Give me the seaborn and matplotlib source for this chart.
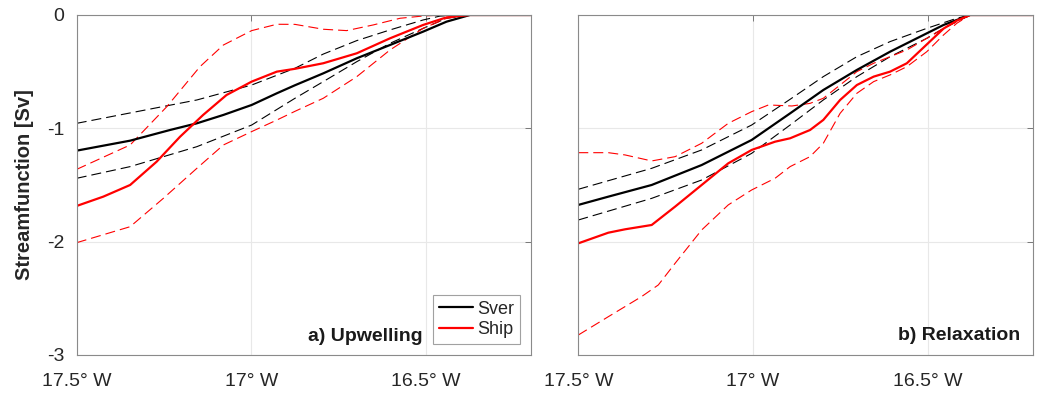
import numpy as np
import pandas as pd
import matplotlib
matplotlib.use("Agg")
import matplotlib.pyplot as plt
import seaborn as sns

# ---------------- data ----------------
# Panel a) Upwelling
a_sver_lon = [-17.5, -17.347, -17.233, -17.156, -17.080, -16.999, -16.927, -16.875, -16.794,
              -16.698, -16.603, -16.508, -16.441, -16.374, -16.2]
a_sver_val = [-1.197, -1.109, -1.015, -0.956, -0.882, -0.794, -0.691, -0.62, -0.515,
              -0.382, -0.265, -0.147, -0.059, 0.0, 0.0]
a_sver_hi_lon = [-17.5, -17.328, -17.156, -16.999, -16.875, -16.794, -16.698, -16.603,
                 -16.508, -16.46, -16.40, -16.2]
a_sver_hi_val = [-0.956, -0.853, -0.750, -0.618, -0.47, -0.345, -0.226, -0.132,
                 -0.044, -0.01, 0.0, 0.0]
a_sver_lo_lon = [-17.5, -17.347, -17.156, -16.999, -16.875, -16.794, -16.698, -16.603,
                 -16.508, -16.441, -16.374, -16.2]
a_sver_lo_val = [-1.441, -1.338, -1.162, -0.971, -0.735, -0.588, -0.412, -0.250,
                 -0.118, -0.029, 0.0, 0.0]

a_ship_lon = [-17.5, -17.424, -17.347, -17.271, -17.204, -17.138, -17.071, -16.999, -16.927,
              -16.875, -16.794, -16.698, -16.603, -16.508, -16.441, -16.374, -16.2]
a_ship_val = [-1.685, -1.603, -1.500, -1.294, -1.074, -0.882, -0.706, -0.588, -0.500,
              -0.475, -0.426, -0.338, -0.206, -0.088, -0.021, 0.0, 0.0]
a_ship_hi_lon = [-17.5, -17.347, -17.242, -17.147, -17.080, -16.999, -16.927, -16.875,
                 -16.794, -16.727, -16.651, -16.574, -16.508, -16.441, -16.2]
a_ship_hi_val = [-1.362, -1.147, -0.809, -0.456, -0.265, -0.138, -0.082, -0.083,
                 -0.126, -0.138, -0.088, -0.029, -0.009, 0.0, 0.0]
a_ship_lo_lon = [-17.5, -17.347, -17.252, -17.156, -17.080, -16.999, -16.927, -16.875,
                 -16.794, -16.698, -16.603, -16.508, -16.441, -16.374, -16.2]
a_ship_lo_val = [-2.009, -1.868, -1.618, -1.353, -1.147, -1.029, -0.927, -0.85,
                 -0.735, -0.544, -0.309, -0.118, -0.029, 0.0, 0.0]

# Panel b) Relaxation
b_sver_lon = [-17.5, -17.414, -17.290, -17.147, -17.004, -16.894, -16.799, -16.703,
              -16.608, -16.503, -16.455, -16.379, -16.2]
b_sver_val = [-1.676, -1.603, -1.500, -1.324, -1.103, -0.868, -0.662, -0.485,
              -0.324, -0.162, -0.088, 0.0, 0.0]
b_sver_hi_lon = [-17.5, -17.290, -17.147, -17.004, -16.894, -16.799, -16.703, -16.608,
                 -16.503, -16.417, -16.379, -16.2]
b_sver_hi_val = [-1.538, -1.353, -1.191, -0.971, -0.744, -0.544, -0.368, -0.235,
                 -0.118, -0.029, 0.0, 0.0]
b_sver_lo_lon = [-17.5, -17.290, -17.147, -17.004, -16.894, -16.799, -16.703, -16.608,
                 -16.503, -16.455, -16.379, -16.2]
b_sver_lo_val = [-1.809, -1.618, -1.456, -1.221, -0.971, -0.750, -0.544, -0.368,
                 -0.206, -0.118, 0.0, 0.0]

b_ship_lon = [-17.5, -17.414, -17.366, -17.290, -17.223, -17.147, -17.071, -17.004, -16.937,
              -16.894, -16.837, -16.799, -16.751, -16.703, -16.655, -16.608, -16.560,
              -16.503, -16.455, -16.417, -16.379, -16.2]
b_ship_val = [-2.015, -1.921, -1.891, -1.853, -1.691, -1.500, -1.309, -1.191, -1.118,
              -1.088, -1.015, -0.926, -0.750, -0.618, -0.544, -0.500, -0.426,
              -0.26, -0.12, -0.05, 0.0, 0.0]
b_ship_hi_lon = [-17.5, -17.414, -17.366, -17.290, -17.223, -17.147, -17.071, -17.004, -16.956,
                 -16.889, -16.837, -16.799, -16.751, -16.703, -16.655, -16.608, -16.560,
                 -16.503, -16.455, -16.379, -16.2]
b_ship_hi_val = [-1.215, -1.215, -1.235, -1.288, -1.250, -1.132, -0.956, -0.853, -0.794,
                 -0.803, -0.78, -0.735, -0.618, -0.500, -0.426, -0.368, -0.309,
                 -0.206, -0.118, 0.0, 0.0]
b_ship_lo_lon = [-17.5, -17.414, -17.319, -17.271, -17.223, -17.147, -17.071, -17.004, -16.937,
                 -16.894, -16.837, -16.799, -16.751, -16.703, -16.655, -16.608, -16.560,
                 -16.503, -16.455, -16.417, -16.379, -16.2]
b_ship_lo_val = [-2.824, -2.662, -2.485, -2.382, -2.191, -1.897, -1.676, -1.544, -1.441,
                 -1.338, -1.250, -1.132, -0.868, -0.691, -0.588, -0.529, -0.456,
                 -0.324, -0.176, -0.073, 0.0, 0.0]

x_ticks = [-17.5, -17.0, -16.5]
x_ticklabels = ["17.5\u00b0 W", "17\u00b0 W", "16.5\u00b0 W"]
y_ticks = [0, -1, -2, -3]
y_ticklabels = ["0", "-1", "-2", "-3"]
panel_titles = ["a) Upwelling", "b) Relaxation"]
legend_labels = ["Sver", "Ship"]

# ---------------- style ----------------
sns.set_theme(style="white")
plt.rcParams["font.family"] = ["Liberation Sans", "DejaVu Sans"]
plt.rcParams["axes.unicode_minus"] = False

RED = "#ff0000"
BLACK = "#000000"
DASH = (9, 4.5)
TXT = "#262626"

fig = plt.figure(figsize=(10.38, 3.95), dpi=100)
ax_a = fig.add_axes([0.0739, 0.1013, 0.4374, 0.8608])
ax_b = fig.add_axes([0.5571, 0.1013, 0.4378, 0.8608])

panels = [
    (ax_a, (a_sver_lon, a_sver_val), (a_sver_hi_lon, a_sver_hi_val), (a_sver_lo_lon, a_sver_lo_val),
     (a_ship_lon, a_ship_val), (a_ship_hi_lon, a_ship_hi_val), (a_ship_lo_lon, a_ship_lo_val)),
    (ax_b, (b_sver_lon, b_sver_val), (b_sver_hi_lon, b_sver_hi_val), (b_sver_lo_lon, b_sver_lo_val),
     (b_ship_lon, b_ship_val), (b_ship_hi_lon, b_ship_hi_val), (b_ship_lo_lon, b_ship_lo_val)),
]

for i, (ax, sver, sver_hi, sver_lo, ship, ship_hi, ship_lo) in enumerate(panels):
    ax.grid(True, color="#e8e8e8", linewidth=0.8)
    ax.set_axisbelow(True)
    for (lon, val), col in [(sver_hi, BLACK), (sver_lo, BLACK), (ship_hi, RED), (ship_lo, RED)]:
        sns.lineplot(x=lon, y=val, ax=ax, color=col, linewidth=0.8, sort=False,
                     estimator=None).lines[-1].set_dashes(DASH)
    sns.lineplot(x=sver[0], y=sver[1], ax=ax, color=BLACK, linewidth=1.6, sort=False,
                 estimator=None, label=legend_labels[0] if i == 0 else None)
    sns.lineplot(x=ship[0], y=ship[1], ax=ax, color=RED, linewidth=1.6, sort=False,
                 estimator=None, label=legend_labels[1] if i == 0 else None)

    ax.set_xlim(-17.5, -16.2)
    ax.set_ylim(-3, 0)
    ax.set_xticks(x_ticks)
    ax.set_xticklabels(x_ticklabels, fontsize=14, color=TXT)
    ax.set_yticks(y_ticks)
    if i == 0:
        ax.set_yticklabels(y_ticklabels, fontsize=14, color=TXT)
        ax.set_ylabel("Streamfunction [Sv]", fontsize=14.5, fontweight="bold", color=TXT)
        ax.yaxis.set_label_coords(-0.095, 0.5)
    else:
        ax.set_yticklabels([])
        ax.set_ylabel("")
    ax.set_xlabel("")
    ax.tick_params(axis="x", direction="in", length=4, width=0.6, color="#666666", pad=13,
                   top=True)
    ax.tick_params(axis="y", direction="in", length=4, width=0.6, color="#666666", pad=9,
                   right=True)
    for s in ax.spines.values():
        s.set_color("#8a8a8a")
        s.set_linewidth(0.8)
        s.set_visible(True)

ax_a.text(0.7626, 0.041, panel_titles[0], transform=ax_a.transAxes, ha="right", va="baseline",
          fontsize=14, fontweight="bold", color="#1a1a1a")
ax_b.text(0.972, 0.043, panel_titles[1], transform=ax_b.transAxes, ha="right", va="baseline",
          fontsize=14, fontweight="bold", color="#1a1a1a")

leg = ax_a.legend(loc="lower right", bbox_to_anchor=(0.9765, 0.033), fontsize=13,
                  frameon=True, fancybox=False, handlelength=1.9, handletextpad=0.25,
                  borderpad=0.3, labelspacing=0.2, borderaxespad=0.0)
leg.get_frame().set_edgecolor("#8a8a8a")
leg.get_frame().set_linewidth(0.8)
for t in leg.get_texts():
    t.set_color(TXT)

fig.savefig("out.png", dpi=100)
